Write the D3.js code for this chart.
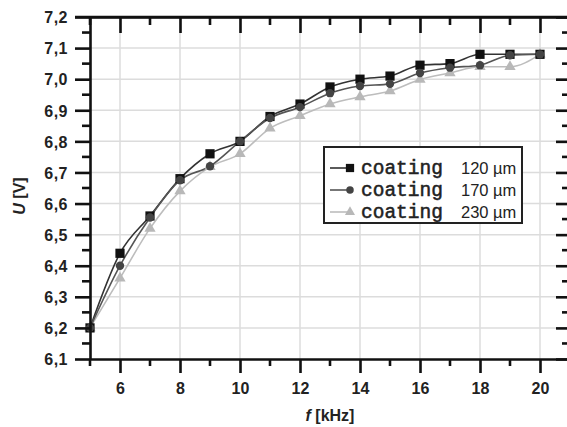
<!DOCTYPE html>
<html>
<head>
<meta charset="utf-8">
<script src="https://cdn.jsdelivr.net/npm/d3@7"></script>
<style>
  html, body { margin: 0; padding: 0; background: #fff; }
  svg { display: block; }
</style>
</head>
<body>
<svg id="chart" width="567" height="427"></svg>
<script>
// Frequency sweep (kHz) and measured voltage for three coating thicknesses
const freqs = [5, 6, 7, 8, 9, 10, 11, 12, 13, 14, 15, 16, 17, 18, 19, 20];
const u120 = [6.20, 6.44, 6.56, 6.68, 6.76, 6.80, 6.88, 6.92, 6.975, 7.00, 7.01, 7.045, 7.05, 7.08, 7.08, 7.08];
const u170 = [6.20, 6.40, 6.555, 6.675, 6.72, 6.80, 6.875, 6.91, 6.955, 6.978, 6.985, 7.02, 7.037, 7.045, 7.077, 7.08];
const u230 = [6.20, 6.36, 6.52, 6.64, 6.718, 6.76, 6.842, 6.882, 6.92, 6.943, 6.962, 6.999, 7.02, 7.04, 7.04, 7.08];
const seriesLabels = ["120 \u00b5m", "170 \u00b5m", "230 \u00b5m"];
const xTickLabels = [6, 8, 10, 12, 14, 16, 18, 20];
const yTickLabels = ["6,1", "6,2", "6,3", "6,4", "6,5", "6,6", "6,7", "6,8", "6,9", "7,0", "7,1", "7,2"];

const svg = d3.select("#chart");
const x = d3.scaleLinear().domain([5, 21]).range([90, 570]);
const y = d3.scaleLinear().domain([6.1, 7.2]).range([359, 17]);

const yMajor = d3.range(0, 12).map(i => +(6.1 + i * 0.1).toFixed(2));
const yMinor = d3.range(0, 11).map(i => +(6.15 + i * 0.1).toFixed(3));
const xMajor = xTickLabels;
const xMinor = [5, 7, 9, 11, 13, 15, 17, 19, 21];

// grid
const grid = svg.append("g").attr("stroke", "#dcdcdc").attr("stroke-width", 1.5);
grid.selectAll("line.v").data(xMajor).join("line")
  .attr("x1", d => x(d)).attr("x2", d => x(d)).attr("y1", y(7.2)).attr("y2", y(6.1));
grid.selectAll("line.h").data(yMajor.slice(1, -1)).join("line")
  .attr("x1", x(5)).attr("x2", x(21)).attr("y1", d => y(d)).attr("y2", d => y(d));

// series
const series = [
  { vals: u120, line: "#333", fill: "#111", shape: d3.symbolSquare, size: 85 },
  { vals: u170, line: "#555", fill: "#444", shape: d3.symbolCircle, size: 55 },
  { vals: u230, line: "#bdbdbd", fill: "#b8b8b8", shape: d3.symbolTriangle, size: 55 }
];
const lineGen = d3.line().x(d => x(d[0])).y(d => y(d[1])).curve(d3.curveMonotoneX);

const drawOrder = [2, 0, 1];
drawOrder.forEach(i => {
  const s = series[i];
  const pts = freqs.map((f, j) => [f, s.vals[j]]);
  svg.append("path").datum(pts)
    .attr("d", lineGen).attr("fill", "none")
    .attr("stroke", s.line).attr("stroke-width", 1.6);
});
drawOrder.forEach(i => {
  const s = series[i];
  const pts = freqs.map((f, j) => [f, s.vals[j]]);
  svg.append("g").selectAll("path").data(pts).join("path")
    .attr("transform", d => `translate(${x(d[0])},${y(d[1])})`)
    .attr("d", d3.symbol().type(s.shape).size(s.size))
    .attr("fill", s.fill);
});

// axes
const axisW = 2.6;
const axBottom = svg.append("g").attr("transform", `translate(0,${y(6.1)})`)
  .call(d3.axisBottom(x).tickValues(xMajor).tickSize(14).tickSizeOuter(0).tickFormat(d => d));
axBottom.append("g").selectAll("line").data(xMinor).join("line")
  .attr("x1", d => x(d)).attr("x2", d => x(d)).attr("y1", 0).attr("y2", 7);

const axLeft = svg.append("g").attr("transform", `translate(${x(5)},0)`)
  .call(d3.axisLeft(y).tickValues(yMajor).tickSize(15).tickSizeOuter(0)
    .tickFormat((d, i) => yTickLabels[i]));
axLeft.append("g").selectAll("line").data(yMinor).join("line")
  .attr("y1", d => y(d)).attr("y2", d => y(d)).attr("x1", 0).attr("x2", -8);

const axTop = svg.append("g").attr("transform", `translate(0,${y(7.2)})`)
  .call(d3.axisTop(x).tickValues(xMajor).tickSize(-16).tickSizeOuter(0).tickFormat(""));
axTop.append("g").selectAll("line").data(xMinor).join("line")
  .attr("x1", d => x(d)).attr("x2", d => x(d)).attr("y1", 0).attr("y2", 8);

const axRight = svg.append("g").attr("transform", `translate(${x(21)},0)`)
  .call(d3.axisRight(y).tickValues(yMajor).tickSize(-14).tickSizeOuter(0).tickFormat(""));
axRight.append("g").selectAll("line").data(yMinor).join("line")
  .attr("y1", d => y(d)).attr("y2", d => y(d)).attr("x1", 0).attr("x2", -8);

[axBottom, axLeft, axTop, axRight].forEach(g => {
  g.selectAll("path.domain").attr("stroke", "#111").attr("stroke-width", axisW);
  g.selectAll("line").attr("stroke", "#111").attr("stroke-width", axisW);
});
// extend top spine to meet the left major tick
svg.append("line").attr("x1", x(5) - 15).attr("x2", x(21)).attr("y1", y(7.2)).attr("y2", y(7.2))
  .attr("stroke", "#111").attr("stroke-width", axisW);

axBottom.selectAll("text")
  .attr("font-family", "'Liberation Sans', Arial, sans-serif")
  .attr("font-weight", "bold").attr("font-size", 16).attr("fill", "#222")
  .attr("y", 24).attr("dy", "0.71em");
axLeft.selectAll("text")
  .attr("font-family", "'Liberation Sans', Arial, sans-serif")
  .attr("font-weight", "bold").attr("font-size", 16).attr("fill", "#222")
  .attr("letter-spacing", 0.5)
  .attr("x", -22).attr("dy", "0.36em");

// axis titles
const xt = svg.append("text").attr("x", 330).attr("y", 421).attr("text-anchor", "middle")
  .attr("font-family", "'Liberation Sans', Arial, sans-serif").attr("font-weight", "bold")
  .attr("font-size", 16).attr("fill", "#222");
xt.append("tspan").attr("font-style", "italic").text("f");
xt.append("tspan").text(" [kHz]");

const yt = svg.append("text").attr("transform", "translate(25,196) rotate(-90)")
  .attr("text-anchor", "middle")
  .attr("font-family", "'Liberation Sans', Arial, sans-serif").attr("font-weight", "bold")
  .attr("font-size", 16).attr("fill", "#222");
yt.append("tspan").attr("font-style", "italic").text("U");
yt.append("tspan").text(" [V]");

// legend
const lg = svg.append("g");
lg.append("rect").attr("x", 324).attr("y", 147).attr("width", 198).attr("height", 76)
  .attr("fill", "#fff").attr("stroke", "#222").attr("stroke-width", 2);
series.forEach((s, i) => {
  const cy = 168 + i * 22;
  lg.append("line").attr("x1", 330).attr("x2", 348).attr("y1", cy).attr("y2", cy)
    .attr("stroke", s.line).attr("stroke-width", 1.6);
  lg.append("path").attr("transform", `translate(350,${cy})`)
    .attr("d", d3.symbol().type(s.shape).size(s.size * 0.8)).attr("fill", s.fill);
  lg.append("text").attr("x", 361).attr("y", cy + 6)
    .attr("font-family", "'Liberation Mono', 'Courier New', monospace")
    .attr("font-size", 19.5).attr("fill", "#222")
    .attr("stroke", "#222").attr("stroke-width", 0.5)
    .text("coating");
  lg.append("text").attr("x", 461).attr("y", cy + 6)
    .attr("font-family", "'Liberation Sans', Arial, sans-serif")
    .attr("font-size", 16.5).attr("fill", "#222")
    .text(seriesLabels[i]);
});
</script>
</body>
</html>
